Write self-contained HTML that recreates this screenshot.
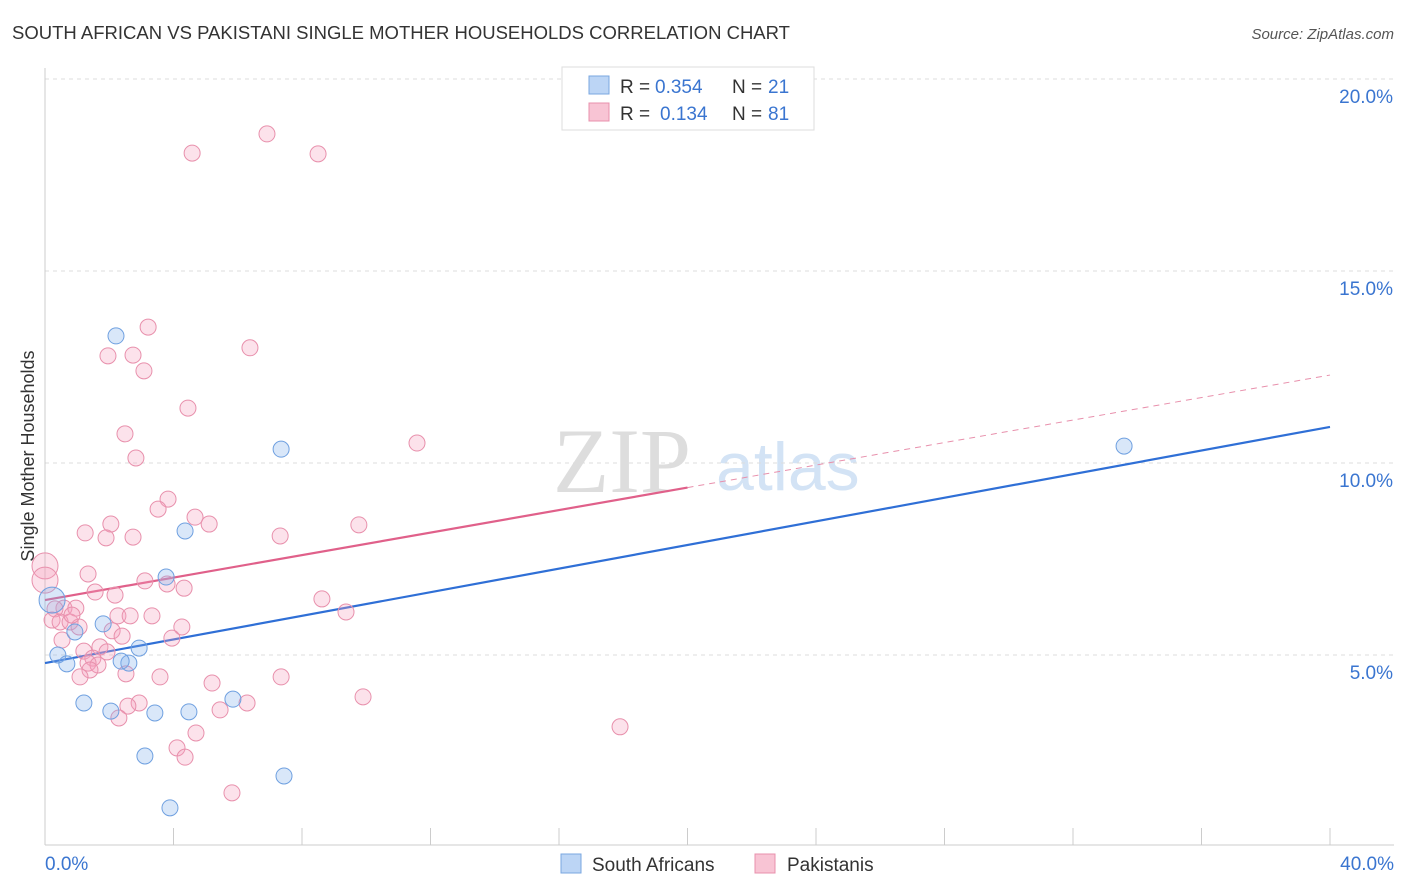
<!DOCTYPE html>
<html><head><meta charset="utf-8">
<style>
body{margin:0;background:#fff;font-family:"Liberation Sans",sans-serif;}
#wrap{position:relative;width:1406px;height:892px;overflow:hidden;}
</style></head>
<body>
<div id="wrap">
<svg id="svg" width="1406" height="892">
<text x="12" y="39" font-size="18" fill="#333" textLength="778" lengthAdjust="spacingAndGlyphs">SOUTH AFRICAN VS PAKISTANI SINGLE MOTHER HOUSEHOLDS CORRELATION CHART</text>
<text x="1394" y="39" font-size="15" fill="#555" text-anchor="end" font-style="italic">Source: ZipAtlas.com</text>
<text transform="translate(34,456) rotate(-90)" font-size="18" fill="#333" text-anchor="middle">Single Mother Households</text>
<text x="553" y="492" font-size="92" fill="#ddd" font-family="Liberation Serif">ZIP</text>
<text x="716" y="490" font-size="68" fill="#d3e3f5">atlas</text>
<g id="grid"></g><g id="axes"></g><g id="lines"></g><g id="pts"></g>
<g>
<rect x="562" y="67" width="252" height="63" fill="#fff" stroke="#ddd"/>
<rect x="589" y="76" width="20" height="18" fill="#bcd5f5" stroke="#7aa7e0"/>
<text x="620" y="93" font-size="19" fill="#333">R =</text>
<text x="655" y="93" font-size="19" fill="#3a75d0">0.354</text>
<text x="732" y="93" font-size="19" fill="#333">N =</text>
<text x="768" y="93" font-size="19" fill="#3a75d0">21</text>
<rect x="589" y="103" width="20" height="18" fill="#f8c4d4" stroke="#e890ac"/>
<text x="620" y="120" font-size="19" fill="#333">R =</text>
<text x="660" y="120" font-size="19" fill="#3a75d0">0.134</text>
<text x="732" y="120" font-size="19" fill="#333">N =</text>
<text x="768" y="120" font-size="19" fill="#3a75d0">81</text>
</g>
<g>
<rect x="561" y="854" width="20" height="19" fill="#bcd5f5" stroke="#7aa7e0"/>
<text x="592" y="871" font-size="19" fill="#333">South Africans</text>
<rect x="755" y="854" width="20" height="19" fill="#f8c4d4" stroke="#e890ac"/>
<text x="787" y="871" font-size="19" fill="#333">Pakistanis</text>
</g>
</svg></div>
<script>
const yTicks=[5,10,15,20];
const yTickLabels=["5.0%","10.0%","15.0%","20.0%"];
const xTickLabels=["0.0%","40.0%"];
const saX=[2.21,7.35,33.59,4.36,3.77,0.22,1.81,2.93,0.40,0.68,2.61,1.21,2.05,3.42,4.48,5.85,3.11,7.44,3.89,2.37,0.93];
const saY=[13.31,10.36,10.44,8.23,7.03,6.43,5.81,5.18,5.00,4.77,4.79,3.75,3.54,3.49,3.52,3.85,2.37,1.85,1.02,4.84,5.60];
const pkX=[6.91,4.58,8.50,3.21,6.38,1.96,2.74,3.08,4.45,2.49,11.58,2.83,3.83,3.52,4.67,5.11,2.05,9.77,1.25,1.90,2.74,7.32,0,0,1.34,3.11,3.80,4.33,1.56,2.18,8.62,0.59,0.96,0.31,9.37,2.27,2.65,3.33,0.22,0.47,0.78,1.06,4.26,2.09,2.40,3.95,0.53,1.71,1.21,1.93,1.49,1.34,1.65,1.40,2.52,3.58,1.09,7.35,5.20,9.90,2.93,2.58,6.29,5.45,2.30,4.70,17.90,4.11,4.36,5.82,0.84];
const pkY=[18.57,18.07,18.05,13.54,13.0,12.79,12.81,12.40,11.43,10.76,10.52,10.13,9.06,8.80,8.59,8.41,8.41,8.39,8.18,8.05,8.07,8.10,7.32,6.95,7.11,6.93,6.85,6.74,6.64,6.56,6.46,6.22,6.22,6.20,6.12,6.02,6.02,6.02,5.91,5.86,5.86,5.73,5.73,5.63,5.49,5.44,5.39,5.21,5.10,5.08,4.92,4.79,4.74,4.61,4.51,4.43,4.43,4.43,4.27,3.91,3.75,3.67,3.75,3.57,3.36,2.97,3.13,2.58,2.34,1.41,6.04];
const saTrend=[4.79,10.94];
const pkTrend=[6.43,12.29];
const pkSolidEnd=20;
const X=v=>45+v*32.125, Y=v=>847-v*38.4;
const NS="http://www.w3.org/2000/svg";
function mk(t,a,p){const e=document.createElementNS(NS,t);for(const k in a)e.setAttribute(k,a[k]);p.appendChild(e);return e;}
const grid=document.getElementById('grid'),axes=document.getElementById('axes'),lines=document.getElementById('lines'),pts=document.getElementById('pts');
yTicks.forEach((v,i)=>{
 const l=mk('line',{x1:45,x2:1394,y1:Y(v),y2:Y(v),stroke:'#ddd','stroke-dasharray':'4,4'},grid);
 
 
 const t=mk('text',{x:1393,y:Y(v)+24,'font-size':19,fill:'#3a75d0','text-anchor':'end'},axes);
 t.textContent=yTickLabels[i];
 
 
});
const ax=mk('line',{x1:45,x2:1394,y1:845,y2:845,stroke:'#ccc'},axes);


const ay=mk('line',{x1:45,x2:45,y1:68,y2:845,stroke:'#ccc'},axes);


for(let i=0;i<=10;i++){
 const tk=mk('line',{x1:X(i*4),x2:X(i*4),y1:828,y2:845,stroke:'#ccc'},axes);
 
 
}
[[0,'start',45],[40,'end',1394]].forEach((d,i)=>{
 const t=mk('text',{x:d[2],y:870,'font-size':19,fill:'#3a75d0','text-anchor':d[1]},axes);
 t.textContent=xTickLabels[i];
 
 
});
function pt(x,y,fill,stroke,name,big){
 const c=mk('circle',{cx:X(x),cy:Y(y),r:big?13:8,fill:fill,stroke:stroke,'stroke-width':1},pts);
 
 
}
pkX.forEach((x,i)=>pt(x,pkY[i],'rgba(244,160,188,0.3)','#e890ac','pakistani-point',x===0));
saX.forEach((x,i)=>pt(x,saY[i],'rgba(130,175,235,0.3)','#6fa0e0','south-african-point',i===5));
const py=x=>pkTrend[0]+(pkTrend[1]-pkTrend[0])*x/40;
const l1=mk('line',{x1:X(0),y1:Y(saTrend[0]),x2:X(40),y2:Y(saTrend[1]),stroke:'#2f6fd6','stroke-width':2.2},lines);


const l2=mk('line',{x1:X(0),y1:Y(py(0)),x2:X(pkSolidEnd),y2:Y(py(pkSolidEnd)),stroke:'#e0608a','stroke-width':2.2},lines);


const l3=mk('line',{x1:X(pkSolidEnd),y1:Y(py(pkSolidEnd)),x2:X(40),y2:Y(py(40)),stroke:'#e890ac','stroke-width':1,'stroke-dasharray':'6,5'},lines);


</script>
</body></html>
